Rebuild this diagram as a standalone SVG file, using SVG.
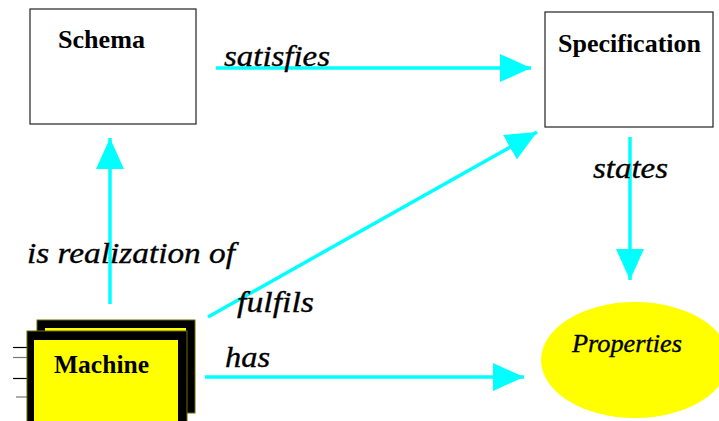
<svg xmlns="http://www.w3.org/2000/svg" width="719" height="421" viewBox="0 0 719 421">
  <style>
    .box { fill: #ffffff; stroke: #222222; stroke-width: 1.2; }
    .title { font-family: "Liberation Serif", serif; font-weight: bold; font-size: 25px; fill: #000000; }
    .label { font-family: "Liberation Serif", serif; font-style: italic; font-size: 30px; fill: #000000; stroke: #000000; stroke-width: 0.35; }
    .link { stroke: #00ffff; stroke-width: 3.5; fill: none; marker-end: url(#head); }
    .frame { fill: #000000; stroke: #6b6b00; stroke-width: 1; }
    .face { fill: #ffff00; }
  </style>
  <defs>
    <marker id="head" markerUnits="userSpaceOnUse" markerWidth="32" markerHeight="30" refX="31" refY="14" orient="auto">
      <path d="M0,0 L31,14 L0,28 Z" fill="#00ffff"/>
    </marker>
  </defs>

  <rect width="719" height="421" fill="#ffffff"/>

  <!-- connectors -->
  <g id="connectors">
    <line class="link" x1="216" y1="68" x2="531" y2="68"/>
    <line class="link" x1="630" y1="137" x2="630" y2="280"/>
    <line class="link" x1="110" y1="304" x2="110" y2="138"/>
    <line class="link" x1="208" y1="317" x2="537" y2="132"/>
    <line class="link" x1="205" y1="377" x2="524" y2="377"/>
  </g>

  <!-- connector labels -->
  <g id="labels">
    <text class="label" x="224" y="66" textLength="106" lengthAdjust="spacingAndGlyphs">satisfies</text>
    <text class="label" x="593" y="178" textLength="75" lengthAdjust="spacingAndGlyphs">states</text>
    <text class="label" x="27" y="263" textLength="208" lengthAdjust="spacingAndGlyphs">is realization of</text>
    <text class="label" x="237" y="312" textLength="77" lengthAdjust="spacingAndGlyphs">fulfils</text>
    <text class="label" x="225" y="367" textLength="45" lengthAdjust="spacingAndGlyphs">has</text>
  </g>

  <g id="schema">
    <rect class="box" x="30" y="9" width="166" height="115"/>
    <text class="title" x="58" y="48" textLength="87" lengthAdjust="spacingAndGlyphs">Schema</text>
  </g>

  <g id="specification">
    <rect class="box" x="545" y="12" width="168" height="115"/>
    <text class="title" x="558" y="52" textLength="143" lengthAdjust="spacingAndGlyphs">Specification</text>
  </g>

  <g id="properties">
    <ellipse cx="635" cy="360" rx="94" ry="58" fill="#ffff00"/>
    <text class="label" x="572" y="352" style="font-size:25px" textLength="110" lengthAdjust="spacingAndGlyphs">Properties</text>
  </g>

  <g id="machine">
    <!-- pins -->
    <line x1="13" y1="347.5" x2="28" y2="347.5" stroke="#000000" stroke-width="1.2"/>
    <line x1="13" y1="357.5" x2="28" y2="357.5" stroke="#777777" stroke-width="1.2"/>
    <line x1="13" y1="378.5" x2="28" y2="378.5" stroke="#000000" stroke-width="1.2"/>
    <line x1="16" y1="397" x2="28" y2="397" stroke="#777777" stroke-width="1.2"/>
    <!-- back card -->
    <rect class="frame" x="37" y="320" width="158" height="93"/>
    <rect class="face" x="45" y="328" width="141" height="77"/>
    <!-- front card -->
    <rect class="frame" x="27" y="331" width="160" height="100"/>
    <rect class="face" x="34" y="340" width="144" height="90"/>
    <text class="title" x="54" y="373" textLength="95" lengthAdjust="spacingAndGlyphs">Machine</text>
  </g>
</svg>
